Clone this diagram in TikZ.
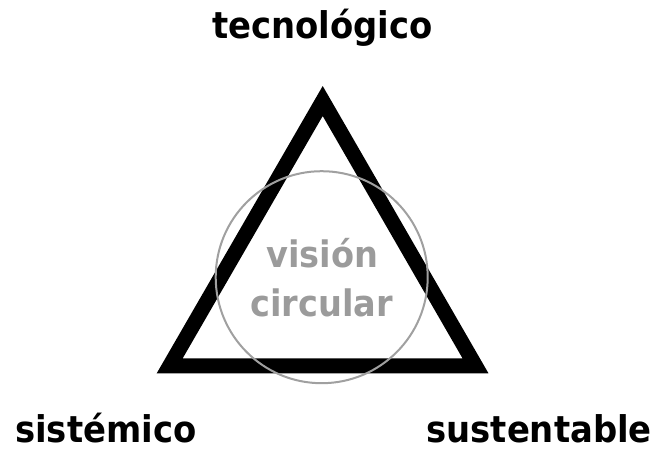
\documentclass[tikz,border=0pt]{standalone}
\usepackage{fontspec}
\setmainfont{DejaVu Sans}
\newfontfamily\lblfont[FakeStretch=0.92]{DejaVu Sans}
\definecolor{softgray}{RGB}{155,155,155}
\definecolor{ringgray}{RGB}{160,160,160}
\tikzset{
  lbl/.style={inner sep=0pt, anchor=base, font=\lblfont\fontsize{36.8}{42}\selectfont\bfseries, text=black},
  inner/.style={inner sep=0pt, anchor=base, font=\lblfont\fontsize{36.5}{42}\selectfont\bfseries, text=softgray},
  tri/.style={line width=15pt, line join=miter, draw=black},
  ring/.style={circle, draw=ringgray, line width=2pt, inner sep=0pt, minimum size=212pt}
}
\begin{document}
\begin{tikzpicture}[x=1pt,y=-1pt]
\useasboundingbox (0,0) rectangle (655,461);
\coordinate (A) at (322.7,101);
\coordinate (B) at (169.7,365.8);
\coordinate (C) at (475.5,365.8);
\draw[tri] (A) -- (B) -- (C) -- cycle;
\node[ring] (ring) at (321.7,277.2) {};
\node[inner] (v1) at (322.5,267.3) {visión};
\node[inner] (v2) at (321.7,316.7) {circular};
\node[lbl] (tec) at (322.5,38.3) {tecnológico};
\node[lbl] (sis) at (105.8,442.7) {sistémico};
\node[lbl] (sus) at (539.2,442.7) {sustentable};
\end{tikzpicture}
\end{document}
